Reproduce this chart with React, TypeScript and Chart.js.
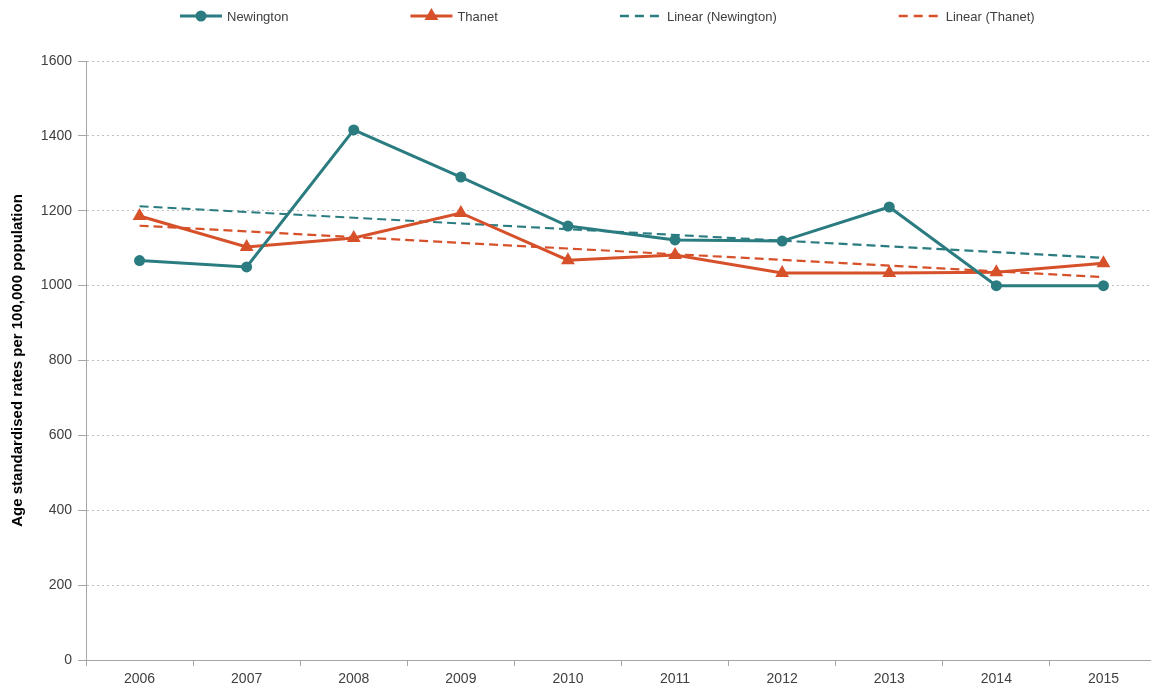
import React, { useEffect, useRef } from 'react';
import { Chart, registerables } from 'chart.js';
import { drawPoint } from 'chart.js/helpers';

Chart.register(...registerables);

const years = ['2006', '2007', '2008', '2009', '2010', '2011', '2012', '2013', '2014', '2015'];
const newington = [1067, 1050, 1416, 1290, 1159, 1122, 1119, 1210, 1000, 1000];
const thanet = [1186, 1103, 1127, 1194, 1068, 1082, 1034, 1034, 1036, 1060];
const linearNewington = [1212, null, null, null, null, null, null, null, null, 1074];
const linearThanet = [1160, null, null, null, null, null, null, null, null, 1023];
const yMin = 0;
const yMax = 1600;
const yStep = 200;

const TEAL = '#2b7c80';
const ORANGE = '#d6502a';
const FONT = '"Liberation Sans", Arial, sans-serif';

const legendPlugin = {
  id: 'customLegend',
  afterDraw(chart: any) {
    const ctx = chart.ctx;
    ctx.save();
    ctx.font = `13px ${FONT}`;
    ctx.textBaseline = 'middle';
    ctx.textAlign = 'left';
    const y = 16;
    const sample = 42;
    const gap = 122;
    let x = 180;
    chart.data.datasets.forEach((ds: any) => {
      ctx.strokeStyle = ds.borderColor;
      ctx.lineWidth = ds.borderDash ? 2.5 : 3;
      ctx.setLineDash(ds.borderDash ? [9, 6] : []);
      ctx.beginPath();
      ctx.moveTo(x, y);
      ctx.lineTo(x + sample, y);
      ctx.stroke();
      ctx.setLineDash([]);
      if (ds.pointRadius > 0) {
        ctx.fillStyle = ds.backgroundColor;
        ctx.strokeStyle = ds.borderColor;
        drawPoint(ctx, { pointStyle: ds.pointStyle, radius: ds.pointStyle === 'triangle' ? 5 : 4, rotation: 0, borderWidth: 1 }, x + sample / 2, y);
      }
      ctx.fillStyle = '#404040';
      ctx.fillText(ds.label, x + sample + 5, y + 1);
      x += sample + 5 + ctx.measureText(ds.label).width + gap;
    });
    ctx.restore();
  },
};

export default function App() {
  const ref = useRef<HTMLCanvasElement>(null);
  useEffect(() => {
    if (!ref.current) return;
    const chart = new Chart(ref.current, {
      type: 'line',
      data: {
        labels: years,
        datasets: [
          {
            label: 'Newington',
            data: newington,
            borderColor: TEAL,
            backgroundColor: TEAL,
            borderWidth: 3,
            pointStyle: 'circle',
            pointRadius: 5.5,
            pointBorderWidth: 0,
            tension: 0,
          },
          {
            label: 'Thanet',
            data: thanet,
            borderColor: ORANGE,
            backgroundColor: ORANGE,
            borderWidth: 3,
            pointStyle: 'triangle',
            pointRadius: 8,
            pointBorderWidth: 0,
            tension: 0,
          },
          {
            label: 'Linear (Newington)',
            data: linearNewington,
            borderColor: TEAL,
            backgroundColor: TEAL,
            borderWidth: 2.2,
            borderDash: [9, 5],
            pointRadius: 0,
            spanGaps: true,
          },
          {
            label: 'Linear (Thanet)',
            data: linearThanet,
            borderColor: ORANGE,
            backgroundColor: ORANGE,
            borderWidth: 2.2,
            borderDash: [9, 5],
            pointRadius: 0,
            spanGaps: true,
          },
        ] as any,
      },
      options: {
        animation: false,
        responsive: true,
        maintainAspectRatio: false,
        layout: { padding: { top: 61, left: 0, right: 0, bottom: 0 } },
        plugins: {
          legend: { display: false },
          tooltip: { enabled: false },
        },
        scales: {
          x: {
            offset: true,
            grid: {
              offset: true,
              drawOnChartArea: false,
              drawTicks: true,
              tickLength: 6,
              color: '#a6a6a6',
            },
            border: { color: '#a6a6a6', width: 1 },
            ticks: {
              color: '#404040',
              font: { family: FONT, size: 14 },
              padding: 5,
              maxRotation: 0,
            },
            afterFit(scale: any) {
              scale.height = 29;
            },
          },
          y: {
            min: yMin,
            max: yMax,
            ticks: {
              stepSize: yStep,
              color: '#404040',
              font: { family: FONT, size: 14 },
              padding: 6,
              callback: (v: any) => String(v),
            },
            grid: {
              color: '#bfbfbf',
              tickBorderDash: [],
              tickColor: '#a6a6a6',
              tickLength: 8,
              lineWidth: 1,
            },
            border: { color: '#a6a6a6', width: 1, dash: [2, 3] },
            title: {
              display: true,
              text: 'Age standardised rates per 100,000 population',
              color: '#000000',
              font: { family: FONT, size: 15, weight: 'bold' },
              padding: { top: 9, bottom: 0 },
            },
            afterFit(scale: any) {
              scale.width = 86;
            },
          },
        },
      } as any,
      plugins: [legendPlugin],
    });
    return () => chart.destroy();
  }, []);
  return (
    <div style={{ position: 'fixed', left: 0, top: 0, width: 1165, height: 689, background: '#fff' }}>
      <canvas ref={ref} />
    </div>
  );
}
